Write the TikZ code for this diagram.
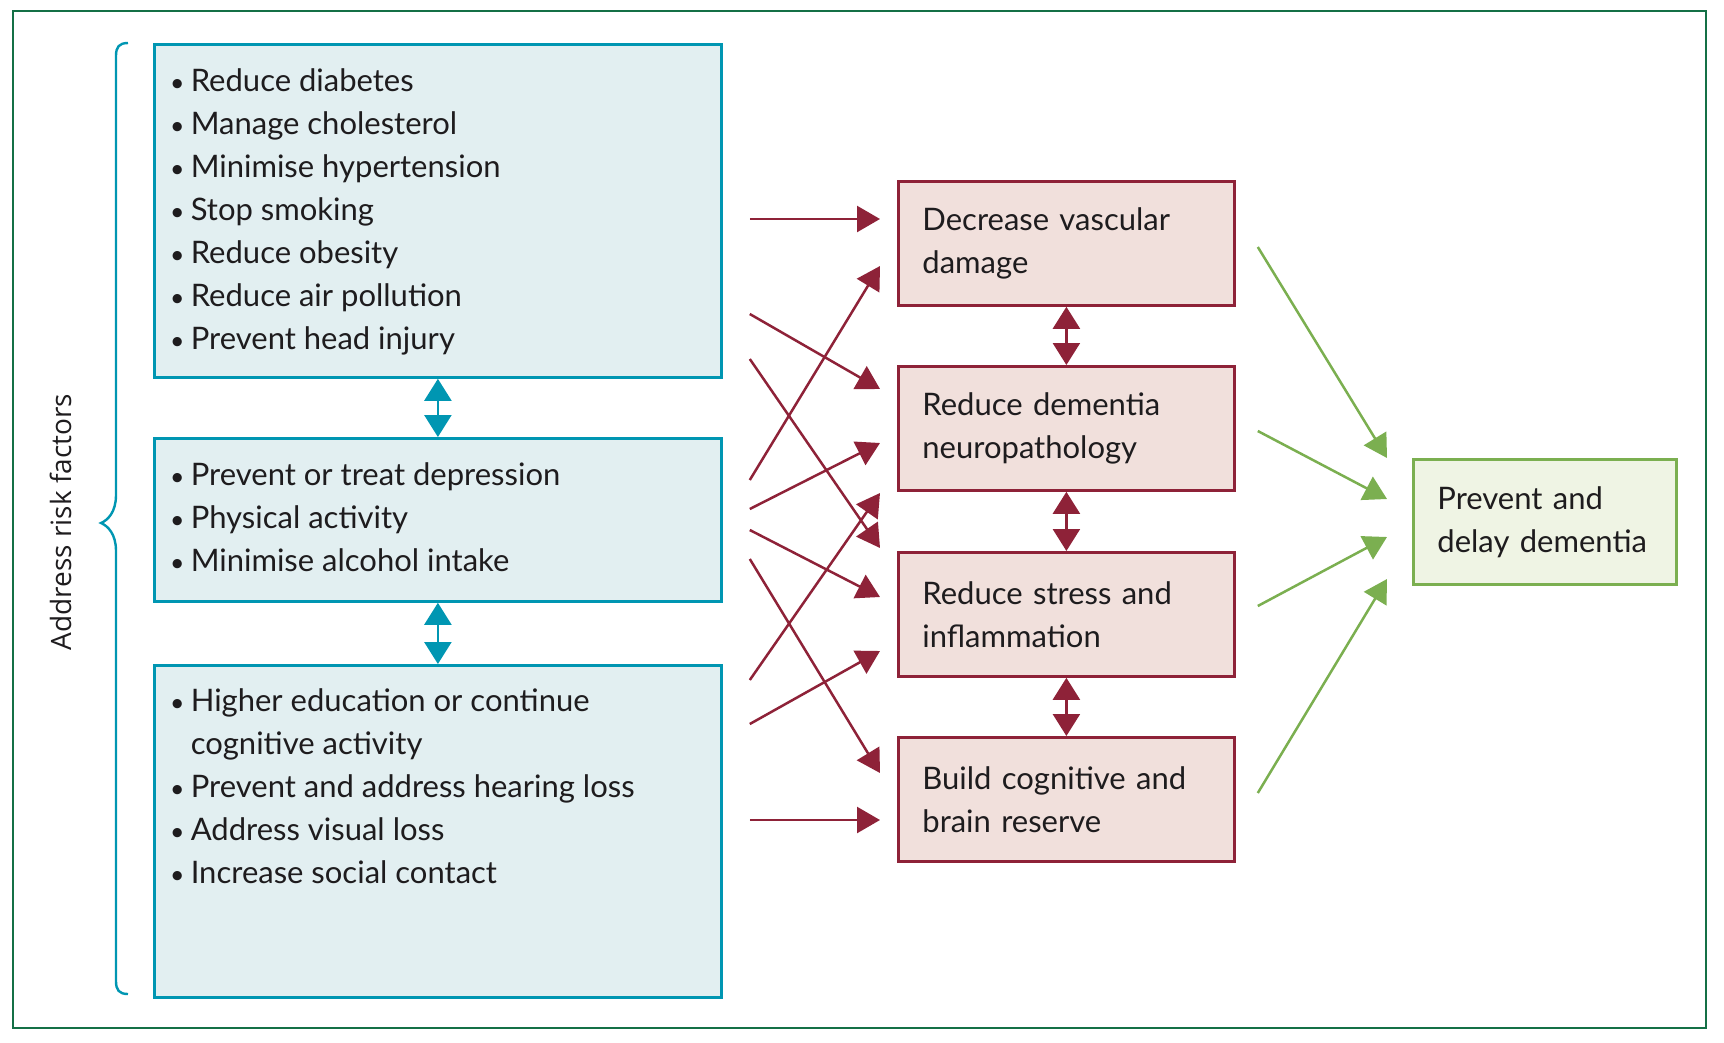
\documentclass[tikz,border=0pt]{standalone}
\usepackage{fontspec}
\usepackage{graphicx}
\setmainfont{Lato}
\newfontfamily\sidefont{Open Sans}
\usetikzlibrary{arrows.meta}

\definecolor{ink}{RGB}{30,28,30}
\definecolor{tealline}{RGB}{0,150,178}
\definecolor{tealfill}{RGB}{226,239,241}
\definecolor{wine}{RGB}{142,34,56}
\definecolor{winefill}{RGB}{241,224,220}
\definecolor{leaf}{RGB}{123,175,80}
\definecolor{leaffill}{RGB}{239,244,228}
\definecolor{framegreen}{RGB}{20,112,70}

\newcommand{\listfont}{\fontsize{31}{43}\selectfont}
\newcommand{\bul}{\scalebox{0.8}{\textbullet}\hspace{0.2em}}

\tikzset{
    tip/.style={-{Triangle[length=23pt,width=26pt]}},
    both tips/.style={{Triangle[length=22pt,width=27pt]}-{Triangle[length=22pt,width=27pt]}},
    riskbox/.style={draw=tealline, fill=tealfill, line width=2.8pt, anchor=north west,
        minimum width=567pt, inner sep=0pt},
    risklist/.style={anchor=north west, inner sep=0pt, align=left, font=\listfont, text=ink},
    pathbox/.style={draw=wine, fill=winefill, line width=2.8pt, anchor=north west,
        minimum height=124pt, text width=288pt, inner xsep=24pt, inner ysep=0pt,
        align=left, font=\listfont, text=ink},
    goalbox/.style={draw=leaf, fill=leaffill, line width=2.8pt, anchor=north west,
        minimum height=125pt, text width=215pt, inner xsep=24pt, inner ysep=0pt,
        align=left, font=\listfont, text=ink},
    riskarrow/.style={draw=wine, fill=wine, line width=2.5pt, tip},
    linkarrow/.style={draw=wine, fill=wine, line width=2.5pt, both tips},
    riskjoin/.style={draw=tealline, fill=tealline, line width=2.5pt, both tips},
    goalarrow/.style={draw=leaf, fill=leaf, line width=2.5pt, tip}
}

\begin{document}
\begin{tikzpicture}[x=1pt, y=-1pt]
    \useasboundingbox (0,0) rectangle (1724,1042);
    \draw[framegreen, line width=2pt] (13,11) rectangle (1706,1028);

    % risk factor groups
    \node[riskbox, minimum height=333pt] (risk1) at (153,43) {};
    \node[riskbox, minimum height=163pt] (risk2) at (153,437) {};
    \node[riskbox, minimum height=332pt] (risk3) at (153,664) {};

    \node[risklist] (list1) at ([shift={(17,25)}]risk1.north west)
        {\bul Reduce diabetes\\
         \bul Manage cholesterol\\
         \bul Minimise hypertension\\
         \bul Stop smoking\\
         \bul Reduce obesity\\
         \bul Reduce air pollution\\
         \bul Prevent head injury};
    \node[risklist] (list2) at ([shift={(17,25)}]risk2.north west)
        {\bul Prevent or treat depression\\
         \bul Physical activity\\
         \bul Minimise alcohol intake};
    \node[risklist] (list3) at ([shift={(17,24)}]risk3.north west)
        {\bul Higher education or continue\\
         \phantom{\bul}cognitive activity\\
         \bul Prevent and address hearing loss\\
         \bul Address visual loss\\
         \bul Increase social contact};

    % brace and side label
    \draw[tealline, line width=2.4pt] (128,43) .. controls (119,43) and (116,47) .. (116,56)
        -- (116,495) .. controls (116,512) and (108,520) .. (101,523)
        .. controls (108,526) and (116,534) .. (116,551)
        -- (116,981) .. controls (116,990) and (119,994) .. (128,994);
    \node[rotate=90, font=\sidefont\fontsize{28}{34}\selectfont, text=ink] (side) at (61,522)
        {Address risk factors};

    % pathways
    \node[pathbox] (vasc) at (897,180) {Decrease vascular\\damage};
    \node[pathbox] (neuro) at (897,365) {Reduce dementia\\neuropathology};
    \node[pathbox] (stress) at (897,551) {Reduce stress and\\inflammation};
    \node[pathbox] (reserve) at (897,736) {Build cognitive and\\brain reserve};

    \node[goalbox] (goal) at (1412,458) {\mbox{Prevent and}\\\mbox{delay dementia}};

    % vertical links
    \draw[riskjoin] (risk1.south) -- (risk2.north);
    \draw[riskjoin] (risk2.south) -- (risk3.north);
    \draw[linkarrow] (vasc.south) -- (neuro.north);
    \draw[linkarrow] (neuro.south) -- (stress.north);
    \draw[linkarrow] (stress.south) -- (reserve.north);

    % risk factors to pathways
    \draw[riskarrow] ([shift={(27,176)}]risk1.north east) -- ([shift={(-17,39)}]vasc.north west);
    \draw[riskarrow] ([shift={(27,271)}]risk1.north east) -- ([shift={(-17,24)}]neuro.north west);
    \draw[riskarrow] ([shift={(27,316)}]risk1.north east) -- ([shift={(-17,-3)}]stress.north west);
    \draw[riskarrow] ([shift={(27,43)}]risk2.north east) -- ([shift={(-17,86)}]vasc.north west);
    \draw[riskarrow] ([shift={(27,72)}]risk2.north east) -- ([shift={(-17,78)}]neuro.north west);
    \draw[riskarrow] ([shift={(27,93)}]risk2.north east) -- ([shift={(-17,46)}]stress.north west);
    \draw[riskarrow] ([shift={(27,122)}]risk2.north east) -- ([shift={(-17,37)}]reserve.north west);
    \draw[riskarrow] ([shift={(27,16)}]risk3.north east) -- ([shift={(-17,128)}]neuro.north west);
    \draw[riskarrow] ([shift={(27,60)}]risk3.north east) -- ([shift={(-17,100)}]stress.north west);
    \draw[riskarrow] ([shift={(27,156)}]risk3.north east) -- ([shift={(-17,84)}]reserve.north west);

    % pathways to outcome
    \draw[goalarrow] ([shift={(22,67)}]vasc.north east) -- ([shift={(-25,0)}]goal.north west);
    \draw[goalarrow] ([shift={(22,66)}]neuro.north east) -- ([shift={(-25,41)}]goal.north west);
    \draw[goalarrow] ([shift={(22,55)}]stress.north east) -- ([shift={(-25,79)}]goal.north west);
    \draw[goalarrow] ([shift={(22,57)}]reserve.north east) -- ([shift={(-25,121)}]goal.north west);
\end{tikzpicture}
\end{document}
